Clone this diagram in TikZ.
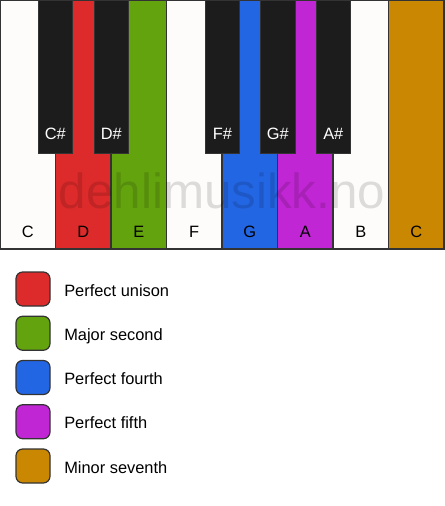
\documentclass[tikz,border=0pt]{standalone}
\usepackage{fontspec}
\setmainfont{Liberation Sans}
\usetikzlibrary{positioning}

\definecolor{keywhite}{HTML}{FDFCFA}
\definecolor{keyblack}{HTML}{1C1C1C}
\definecolor{keyedge}{HTML}{333333}
\definecolor{ivred}{HTML}{DD2A2A}
\definecolor{ivgreen}{HTML}{63A30E}
\definecolor{ivblue}{HTML}{2366E4}
\definecolor{ivpurple}{HTML}{C026D3}
\definecolor{ivorange}{HTML}{CA8802}

\begin{document}
\begin{tikzpicture}[x=0.75pt, y=-0.75pt]

        % One unit is one pixel of the keyboard sketch, y runs downwards
        \tikzset{
            whitekey/.style={draw=keyedge, line width=1.1pt, fill=keywhite,
                rectangle, anchor=north west, inner sep=0pt, outer sep=0pt,
                minimum width=41.6pt, minimum height=186.75pt},
            blackkey/.style={draw=keyedge, line width=0.6pt, fill=keyblack,
                rectangle, anchor=north west, inner sep=0pt, outer sep=0pt,
                minimum width=26pt, minimum height=114.75pt},
            keyname/.style={inner sep=0pt, anchor=base, black,
                font=\fontsize{12.3pt}{14pt}\selectfont},
            sharpname/.style={keyname, white},
            swatch/.style={draw=keyedge, line width=0.9pt, rounded corners=5pt,
                inner sep=0pt, minimum size=25.5pt},
            legendtext/.style={inner sep=0pt, anchor=base west, black,
                font=\fontsize{12.3pt}{14pt}\selectfont},
        }

        \useasboundingbox (0,0) rectangle (444,506);

        % White keys
        \node[whitekey] (kC) at (0,0) {};
        \node[whitekey, fill=ivred] (kD) at (55.5,0) {};
        \node[whitekey, fill=ivgreen] (kE) at (111,0) {};
        \node[whitekey] (kF) at (166.5,0) {};
        \node[whitekey, fill=ivblue] (kG) at (222,0) {};
        \node[whitekey, fill=ivpurple] (kA) at (277.5,0) {};
        \node[whitekey] (kB) at (333,0) {};
        \node[whitekey, fill=ivorange] (kHC) at (388.5,0) {};

        \node[keyname] (lC) at ([yshift=9pt]kC.south) {C};
        \node[keyname] (lD) at ([yshift=9pt]kD.south) {D};
        \node[keyname] (lE) at ([yshift=9pt]kE.south) {E};
        \node[keyname] (lF) at ([yshift=9pt]kF.south) {F};
        \node[keyname] (lG) at ([yshift=9pt]kG.south) {G};
        \node[keyname] (lA) at ([yshift=9pt]kA.south) {A};
        \node[keyname] (lB) at ([yshift=9pt]kB.south) {B};
        \node[keyname] (lHC) at ([yshift=9pt]kHC.south) {C};

        % Watermark across the lower half of the keys
        \node[inner sep=0pt, anchor=base, text=black, text opacity=0.13,
            font=\fontsize{37pt}{40pt}\selectfont] (mark) at (222,208)
            {dehlimusikk.no};

        % Black keys
        \node[blackkey] (kCs) at (38,0) {};
        \node[blackkey] (kDs) at (94,0) {};
        \node[blackkey] (kFs) at (205,0) {};
        \node[blackkey] (kGs) at (260.5,0) {};
        \node[blackkey] (kAs) at (316,0) {};

        \node[sharpname] (lCs) at ([yshift=10.5pt]kCs.south) {C\#};
        \node[sharpname] (lDs) at ([yshift=10.5pt]kDs.south) {D\#};
        \node[sharpname] (lFs) at ([yshift=10.5pt]kFs.south) {F\#};
        \node[sharpname] (lGs) at ([yshift=10.5pt]kGs.south) {G\#};
        \node[sharpname] (lAs) at ([yshift=10.5pt]kAs.south) {A\#};

        % Legend
        \node[swatch, fill=ivred] (sw1) at (33,289) {};
        \node[swatch, fill=ivgreen] (sw2) at (33,333.25) {};
        \node[swatch, fill=ivblue] (sw3) at (33,377.5) {};
        \node[swatch, fill=ivpurple] (sw4) at (33,421.75) {};
        \node[swatch, fill=ivorange] (sw5) at (33,466) {};

        \node[legendtext] (t1) at (64,296) {Perfect unison};
        \node[legendtext] (t2) at (64,340.25) {Major second};
        \node[legendtext] (t3) at (64,384.5) {Perfect fourth};
        \node[legendtext] (t4) at (64,428.75) {Perfect fifth};
        \node[legendtext] (t5) at (64,473) {Minor seventh};
        \end{tikzpicture}
\end{document}
